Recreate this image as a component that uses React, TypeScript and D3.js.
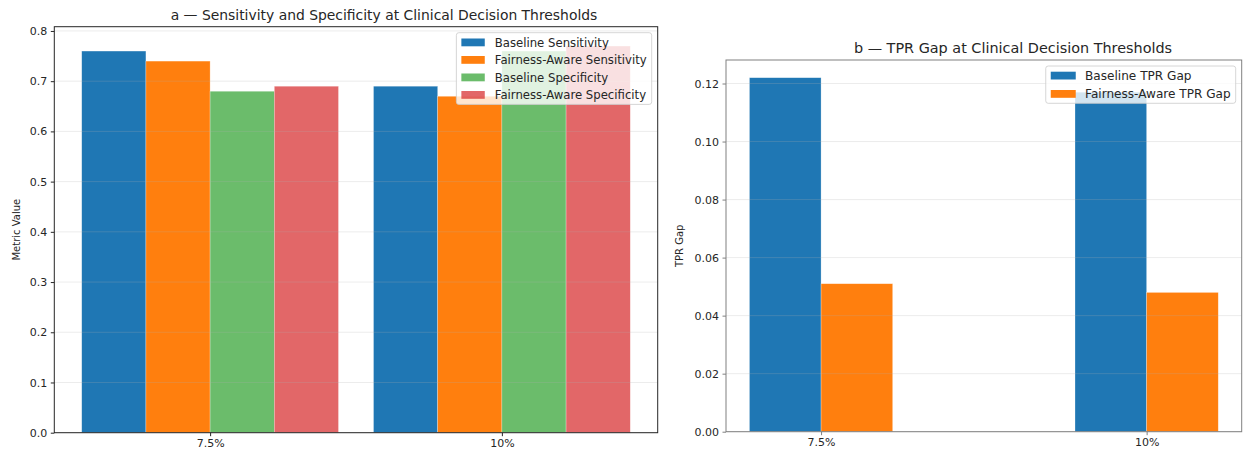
import React, { useRef, useEffect } from 'react';
import * as d3 from 'd3';

// values
const thresholds = ['7.5%', '10%'];
const baselineSensitivity = [0.76, 0.69];
const fairSensitivity = [0.74, 0.67];
const baselineSpecificity = [0.68, 0.76];
const fairSpecificity = [0.69, 0.77];
const baselineTprGap = [0.122, 0.117];
const fairTprGap = [0.051, 0.048];

const metricTicks = [0, 0.1, 0.2, 0.3, 0.4, 0.5, 0.6, 0.7, 0.8];
const gapTicks = [0, 0.02, 0.04, 0.06, 0.08, 0.1, 0.12];

const FONT = 'DejaVu Sans, sans-serif';

type Series = { label: string; values: number[]; color: string; opacity: number };

const drawPanel = (svg, opts) => {
    const { left, right, top, bottom, series, barWidth, yMax, ticks, tickFmt, title, titleX, titleSize, yLabel, yLabelX, spine, legend } = opts;
    const n = series.length;
    const lo = -(n / 2) * barWidth;
    const hi = thresholds.length - 1 + (n / 2) * barWidth;
    const pad = (hi - lo) * 0.05;

    const x = d3.scaleLinear().domain([lo - pad, hi + pad]).range([left, right]);
    const y = d3.scaleLinear().domain([0, yMax]).range([bottom, top]);

    const g = svg.append('g');

    // bars
    series.forEach((s: Series, i: number) => {
        const off = (i - (n - 1) / 2) * barWidth;
        g.append('g')
            .selectAll('rect')
            .data(s.values)
            .join('rect')
            .attr('x', (_, j) => x(j + off - barWidth / 2))
            .attr('y', d => y(d))
            .attr('width', x(barWidth) - x(0))
            .attr('height', d => bottom - y(d))
            .attr('fill', s.color)
            .attr('fill-opacity', s.opacity)
            .attr('stroke', '#ffffff')
            .attr('stroke-opacity', 0.45)
            .attr('stroke-width', 0.6);
    });

    // grid (matplotlib draws it above the patches)
    g.append('g')
        .selectAll('line')
        .data(ticks)
        .join('line')
        .attr('x1', left)
        .attr('x2', right)
        .attr('y1', d => y(d))
        .attr('y2', d => y(d))
        .attr('stroke', '#b0b0b0')
        .attr('stroke-opacity', 0.3)
        .attr('stroke-width', 0.8);

    // spines
    g.append('rect')
        .attr('x', left)
        .attr('y', top)
        .attr('width', right - left)
        .attr('height', bottom - top)
        .attr('fill', 'none')
        .attr('stroke', spine)
        .attr('stroke-width', 1);

    // y axis
    const yAxis = g.append('g')
        .attr('transform', `translate(${left},0)`)
        .call(d3.axisLeft(y).tickValues(ticks).tickFormat(tickFmt).tickSize(3.5).tickPadding(3.5));
    yAxis.select('.domain').remove();
    yAxis.selectAll('line').attr('stroke', spine);
    yAxis.selectAll('text').attr('font-family', FONT).attr('font-size', 11).attr('fill', '#262626');

    // x axis
    const xAxis = g.append('g')
        .attr('transform', `translate(0,${bottom})`)
        .call(d3.axisBottom(x).tickValues(thresholds.map((_, i) => i)).tickFormat((_, i) => thresholds[i]).tickSize(3.5).tickPadding(3.5));
    xAxis.select('.domain').remove();
    xAxis.selectAll('line').attr('stroke', spine);
    xAxis.selectAll('text').attr('font-family', FONT).attr('font-size', 11).attr('fill', '#262626');

    // title
    g.append('text')
        .attr('x', titleX)
        .attr('y', top - 7)
        .attr('text-anchor', 'middle')
        .attr('font-family', FONT)
        .attr('font-size', titleSize)
        .attr('fill', '#262626')
        .text(title);

    // y label
    g.append('text')
        .attr('transform', `translate(${yLabelX},${(top + bottom) / 2}) rotate(-90)`)
        .attr('text-anchor', 'middle')
        .attr('font-family', FONT)
        .attr('font-size', 10)
        .attr('fill', '#262626')
        .text(yLabel);

    // legend, upper right
    const { fs, pitch, handleW, textX, firstRow } = legend;
    const lg = g.append('g');
    const box = lg.append('rect');
    const boxTop = top + 6;
    const texts = series.map((s: Series, i: number) => {
        const cy = boxTop + firstRow + i * pitch;
        lg.append('rect')
            .attr('class', 'h')
            .attr('x', 5)
            .attr('y', cy - 3.8)
            .attr('width', handleW)
            .attr('height', 7.8)
            .attr('fill', s.color)
            .attr('fill-opacity', s.opacity);
        return lg.append('text')
            .attr('x', textX)
            .attr('y', cy + fs * 0.36)
            .attr('font-family', FONT)
            .attr('font-size', fs)
            .attr('fill', '#262626')
            .text(s.label);
    });
    const textW = d3.max(texts, t => (t.node() as SVGTextElement).getComputedTextLength()) || 0;
    const boxW = textX + textW + 5;
    const boxLeft = right - 6 - boxW;
    lg.attr('transform', `translate(${boxLeft},0)`);
    box.attr('x', 0)
        .attr('y', boxTop)
        .attr('width', boxW)
        .attr('height', firstRow * 2 + (n - 1) * pitch)
        .attr('rx', 2.5)
        .attr('fill', '#ffffff')
        .attr('fill-opacity', 0.8)
        .attr('stroke', '#cccccc')
        .attr('stroke-width', 0.8);
};

const App = () => {
    const svgRef = useRef(null);

    useEffect(() => {
        const svg = d3.select(svgRef.current);
        svg.selectAll('*').remove();

        drawPanel(svg, {
            left: 54.3, right: 657.7, top: 26.7, bottom: 432.7,
            barWidth: 0.22,
            yMax: 0.77 * 1.05,
            ticks: metricTicks,
            tickFmt: d3.format('.1f'),
            title: 'a — Sensitivity and Specificity at Clinical Decision Thresholds',
            titleX: 384,
            titleSize: 13.9,
            yLabel: 'Metric Value',
            yLabelX: 20,
            spine: '#262626',
            legend: { fs: 11.7, pitch: 17.5, handleW: 23.4, textX: 38.4, firstRow: 9.6 },
            series: [
                { label: 'Baseline Sensitivity', values: baselineSensitivity, color: '#1f77b4', opacity: 1 },
                { label: 'Fairness-Aware Sensitivity', values: fairSensitivity, color: '#ff7f0e', opacity: 1 },
                { label: 'Baseline Specificity', values: baselineSpecificity, color: '#2ca02c', opacity: 0.7 },
                { label: 'Fairness-Aware Specificity', values: fairSpecificity, color: '#d62728', opacity: 0.7 },
            ],
        });

        drawPanel(svg, {
            left: 726, right: 1241.7, top: 60, bottom: 431.7,
            barWidth: 0.22,
            yMax: 0.122 * 1.05,
            ticks: gapTicks,
            tickFmt: d3.format('.2f'),
            title: 'b — TPR Gap at Clinical Decision Thresholds',
            titleX: 1013,
            titleSize: 14.4,
            yLabel: 'TPR Gap',
            yLabelX: 683,
            spine: '#808080',
            legend: { fs: 12.1, pitch: 18.3, handleW: 25, textX: 39.3, firstRow: 9.5 },
            series: [
                { label: 'Baseline TPR Gap', values: baselineTprGap, color: '#1f77b4', opacity: 1 },
                { label: 'Fairness-Aware TPR Gap', values: fairTprGap, color: '#ff7f0e', opacity: 1 },
            ],
        });
    }, []);

    return (
        <svg ref={svgRef} width={1243} height={454}
            style={{ position: 'absolute', left: 0, top: 0, background: '#ffffff' }} />
    );
};

export default App;
